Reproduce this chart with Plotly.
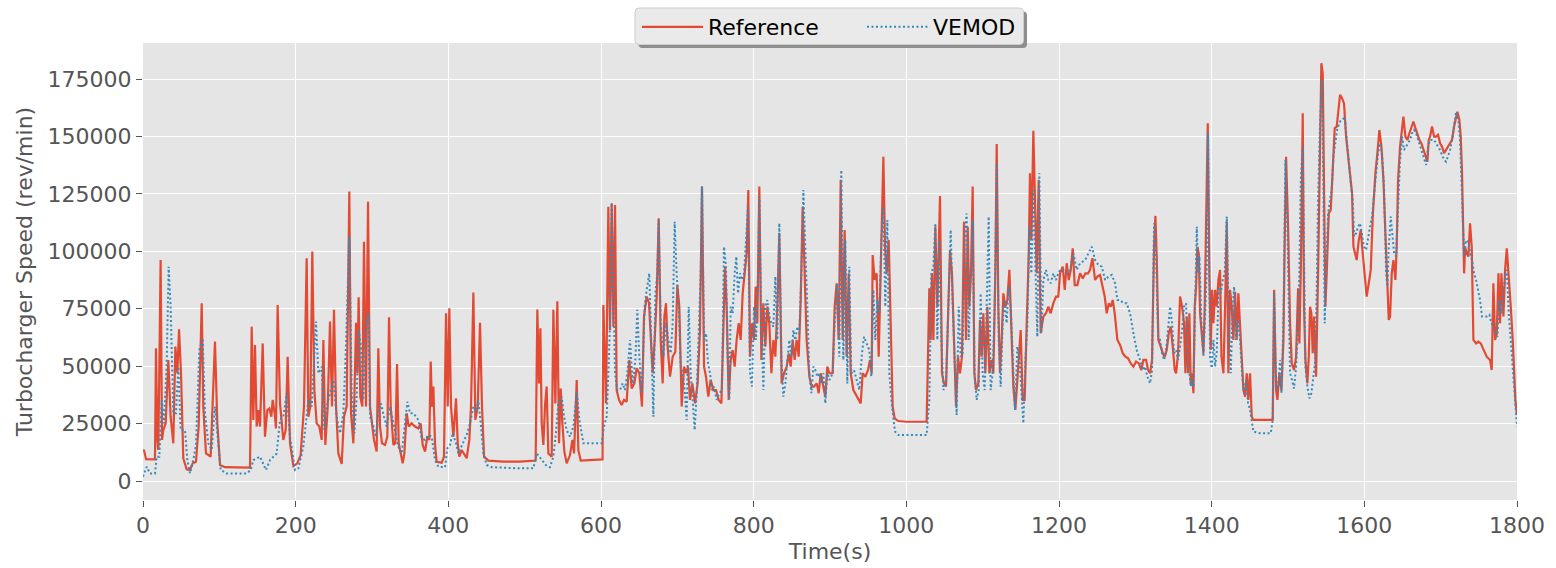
import plotly.graph_objects as go

# ---------------- data (time in s, speed in rev/min) ----------------
ref_t = [0, 1.3, 4, 15.7, 17.0, 18.8, 20.1, 23.1, 24.9, 26.6, 29.7, 33.2, 36.2, 39.7, 42.4, 45.0, 47.2, 49.8, 52.8, 57.2,
         61.6, 65.1, 69.4, 72.9, 74.7, 76.9, 79.0, 82.5, 88.6, 94.3, 97.4, 100.9, 107.4, 140.2, 142.4, 144.5, 146.7, 148.9,
         151.1, 153.3, 156.8, 159.8, 162.9, 165.5, 168.1, 169.9, 172.5, 174.2, 176.4, 179.5, 183.8, 186.9, 189.5, 192.6,
         197.0, 202.2, 206.5, 210.9, 214.4, 216.6, 219.2, 221.8, 224.5, 227.5, 231.0, 234.1, 236.3, 238.9, 242.0, 245.0,
         247.6, 250.2, 252.9, 255.9, 260.3, 263.3, 266.8, 270.3, 272.5, 275.6, 279.1, 280.8, 282.5, 284.7, 287.3, 289.5,
         292.1, 294.8, 297.4, 299.6, 302.6, 306.1, 308.3, 310.5, 313.1, 317.1, 320.1, 322.3, 324.5, 328.0, 330.6, 332.8,
         335.0, 337.6, 340.2, 342.4, 345.4, 348.1, 352.0, 356.4, 360.7, 363.8, 366.4, 369.5, 372.5, 375.1, 376.9, 378.6,
         380.4, 382.6, 384.7, 391.3, 394.3, 397.0, 399.2, 401.3, 403.5, 406.6, 410.1, 412.3, 414.4, 417.5, 420.5, 424.0,
         427.5, 429.7, 432.8, 435.4, 438.5, 441.5, 444.1, 446.8, 452.4, 472.1, 493.9, 514.4, 516.6, 518.8, 520.6, 522.3,
         524.5, 526.7, 528.8, 531.0, 535.4, 537.6, 540.2, 542.8, 545.0, 547.2, 549.4, 552.0, 555.0, 559.4, 562.5, 564.7,
         568.2, 570.3, 573.4, 598.7, 602.0, 603.1, 606.6, 609.6, 611.8, 614.0, 616.2, 618.4, 620.5, 623.6, 627.1, 630.1,
         633.6, 637.1, 640.2, 643.7, 646.7, 650.2, 653.7, 656.3, 659.8, 662.9, 665.1, 667.7, 670.3, 673.0, 675.6, 678.2,
         680.8, 683.0, 685.2, 687.3, 690.4, 693.9, 697.4, 700.0, 702.6, 705.7, 708.7, 711.4, 714.0, 716.6, 719.7, 723.2,
         726.6, 729.7, 732.3, 735.0, 737.6, 740.6, 743.7, 747.2, 750.7, 754.2, 757.7, 760.3, 762.5, 764.6, 767.3, 769.9,
         772.5, 775.1, 777.7, 780.4, 783.0, 785.6, 788.2, 790.8, 793.0, 795.2, 797.8, 800.5, 802.6, 804.8, 807.4, 810.1,
         812.7, 815.3, 817.9, 820.5, 823.2, 825.8, 828.4, 831.0, 833.6, 836.7, 839.7, 843.3, 845.9, 848.5, 851.1, 853.7,
         856.3, 859.0, 861.6, 864.2, 866.8, 869.4, 873.0, 876.0, 879.0, 882.6, 885.2, 887.8, 890.4, 893.9, 896.5, 899.1,
         903.5, 906.1, 908.7, 911.4, 914.0, 916.6, 919.2, 921.8, 924.5, 927.1, 930.6, 934.1, 937.6, 940.2, 942.8, 946.3,
         949.8, 952.4, 954.6, 955.9, 958.5, 961.1, 963.8, 966.4, 968.1, 969.9, 972.1, 974.2, 976.9, 979.5, 982.1, 984.7,
         989.5, 1000.4, 1026.6, 1028.8, 1030.1, 1031.9, 1033.6, 1035.4, 1038.0, 1040.6, 1042.4, 1044.1, 1046.7, 1049.3,
         1052.0, 1054.6, 1057.2, 1059.8, 1062.4, 1065.1, 1067.7, 1070.3, 1072.9, 1075.6, 1078.2, 1080.4, 1082.5, 1084.7,
         1086.9, 1089.1, 1091.3, 1094.3, 1096.5, 1098.7, 1100.9, 1103.5, 1106.1, 1108.7, 1111.4, 1114.0, 1116.6, 1118.4,
         1120.5, 1122.7, 1124.9, 1127.1, 1129.7, 1132.3, 1135.0, 1137.6, 1140.2, 1142.8, 1145.4, 1148.0, 1149.8, 1152.4,
         1155.0, 1157.6, 1160.3, 1162.0, 1163.8, 1166.4, 1168.6, 1170.8, 1173.4, 1176.0, 1179.5, 1183.0, 1186.0, 1189.1,
         1192.6, 1196.1, 1199.1, 1201.4, 1204.9, 1207.5, 1210.1, 1212.8, 1215.4, 1218.0, 1220.6, 1224.1, 1227.6, 1231.1,
         1234.6, 1238.1, 1240.7, 1243.8, 1247.3, 1250.3, 1253.8, 1257.3, 1259.9, 1262.5, 1265.2, 1267.8, 1270.4, 1273.0,
         1276.5, 1280.0, 1283.5, 1287.0, 1290.5, 1294.0, 1297.5, 1301.0, 1304.5, 1307.9, 1310.6, 1314.1, 1316.7, 1319.3,
         1321.9, 1324.5, 1326.3, 1328.0, 1330.2, 1333.3, 1336.0, 1338.5, 1341.1, 1343.8, 1346.4, 1349.0, 1351.6, 1353.4,
         1356.0, 1358.6, 1361.2, 1363.8, 1365.6, 1367.3, 1369.1, 1370.8, 1372.6, 1374.3, 1376.1, 1377.8, 1379.6, 1381.3,
         1383.1, 1384.8, 1387.4, 1389.2, 1390.9, 1392.7, 1394.9, 1397.0, 1398.8, 1400.5, 1402.3, 1404.5, 1406.6, 1408.8,
         1411.0, 1412.8, 1415.4, 1417.6, 1419.8, 1421.9, 1424.1, 1426.3, 1428.5, 1430.7, 1432.8, 1435.0, 1437.2, 1439.4,
         1441.6, 1443.8, 1446.0, 1448.1, 1450.3, 1452.5, 1454.7, 1463.4, 1480.0, 1481.8, 1484.4, 1486.1, 1488.7, 1491.4,
         1494.0, 1495.7, 1497.5, 1500.1, 1502.7, 1504.9, 1507.9, 1510.6, 1513.2, 1514.9, 1517.1, 1519.3, 1521.0, 1522.8,
         1525.4, 1527.2, 1528.9, 1530.6, 1532.4, 1534.1, 1536.8, 1539.4, 1541.1, 1543.7, 1545.5, 1547.2, 1549.0, 1550.7,
         1553.4, 1556.0, 1558.6, 1561.2, 1563.8, 1566.5, 1568.2, 1570.8, 1573.4, 1576.1, 1579.1, 1582.2, 1583.9, 1585.7,
         1588.3, 1590.0, 1592.7, 1595.3, 1597.9, 1600.5, 1603.1, 1605.8, 1608.4, 1611.0, 1614.5, 1617.1, 1619.7, 1622.4,
         1625.0, 1627.6, 1629.3, 1632.0, 1633.7, 1635.9, 1638.1, 1640.7, 1642.4, 1644.2, 1646.8, 1649.4, 1651.2, 1653.8,
         1656.4, 1659.0, 1661.7, 1664.3, 1666.9, 1669.5, 1672.1, 1674.8, 1677.4, 1680.0, 1682.6, 1684.4, 1686.1, 1688.7,
         1691.4, 1694.0, 1696.6, 1699.2, 1701.8, 1704.5, 1707.1, 1709.7, 1712.3, 1714.9, 1717.6, 1720.2, 1721.9, 1724.5,
         1726.3, 1728.0, 1729.8, 1730.7, 1732.0, 1734.1, 1736.3, 1738.5, 1740.7, 1742.9, 1746.4, 1749.4, 1752.5, 1756.0,
         1760.3, 1764.7, 1766.9, 1769.1, 1771.3, 1773.5, 1775.7, 1777.8, 1779.6, 1782.2, 1784.4, 1786.6, 1789.2, 1791.8,
         1794.4, 1796.2, 1797.9, 1800.0]
ref_v = [13000, 13500, 9500, 9400, 57800, 17900, 13500, 96200, 17900, 22200, 25100, 52700, 28000, 16400, 58500, 46900, 66000, 46900, 9900, 5100,
         4800, 7700, 8400, 23700, 46900, 77400, 32400, 12000, 10600, 60700, 25100, 7000, 6000, 5800, 67200, 26600, 59200, 23700,
         30900, 23700, 59900, 19300, 30900, 31600, 28000, 35300, 29500, 22900, 76600, 33800, 17900, 22200, 54100, 16400,
         6500, 7700, 11300, 32400, 97000, 28000, 32400, 99900, 39600, 25100, 23700, 17900, 61400, 15700, 32400, 69400,
         32400, 74500, 32400, 12000, 7400, 28000, 32400, 126000, 29500, 16400, 68900, 46900, 80000, 36700, 32400, 104200,
         32400, 121600, 32400, 25100, 17900, 12800, 57800, 23700, 16400, 15700, 19300, 71300, 32400, 15700, 16400, 50900,
         16400, 12000, 7700, 12000, 29500, 23700, 25100, 23700, 22900, 25100, 15700, 12800, 19300, 17900, 52000, 32400,
         41100, 15700, 8400, 8000, 10600, 73000, 32400, 75200, 32400, 19300, 36000, 16400, 10600, 13500, 12000, 9900,
         17900, 32400, 82000, 26600, 32400, 68900, 32400, 10600, 8900, 8400, 8400, 8900, 74700, 42500, 66500, 25100,
         15700, 33100, 41100, 12000, 10600, 74500, 33800, 78200, 16400, 40300, 25100, 12800, 7700, 11300, 17900, 12000,
         44000, 13500, 8900, 9400, 9400, 76600, 33800, 119400, 65700, 120900, 67200, 120200, 39600, 35300, 33100, 35300,
         34500, 52700, 40300, 42500, 49100, 46900, 32400, 71600, 80300, 77400, 64300, 46900, 61400, 80300, 114400, 61400,
         42500, 71600, 77400, 58500, 45400, 54100, 56300, 85300, 75900, 32400, 49800, 46900, 49800, 35300, 42500, 33800,
         42500, 65700, 128200, 49800, 45400, 36700, 44000, 39600, 39600, 35300, 33800, 68700, 93300, 75900, 35300, 52700,
         57000, 49800, 61400, 68700, 61400, 81700, 90400, 99100, 126700, 54100, 68700, 61400, 84600, 68700, 128200, 52700,
         77400, 58500, 75900, 68700, 46900, 61400, 54100, 75900, 107800, 42500, 46900, 49800, 55600, 49800, 61400, 52700,
         61400, 54100, 78800, 119400, 90400, 61400, 45400, 41100, 41100, 42500, 38200, 46900, 42500, 36700, 49800, 46900,
         46900, 75900, 86100, 61400, 131100, 61400, 109300, 54100, 90400, 46900, 39600, 37400, 35300, 33800, 46900, 45400,
         48300, 52700, 46900, 98400, 87500, 90400, 54100, 90400, 104900, 141200, 102000, 90400, 104900, 61400, 32400, 27300,
         26100, 25800, 25800, 61400, 83900, 61400, 90400, 61400, 110700, 75900, 97700, 124100, 46900, 42500,
         41100, 73000, 100600, 90400, 61400, 32400, 54100, 46900, 54100, 112900, 61400, 110700, 75900, 90400,
         128200, 46900, 39600, 42500, 70100, 54100, 73000, 46900, 75900, 46900, 52700, 46900, 90400, 146700,
         75900, 46900, 61400, 81700, 75900, 78800, 91900, 68700, 41100, 30900, 42500, 54100, 65700, 35300,
         35300, 67200, 97700, 134000, 104900, 152500, 122200, 90400, 131100, 64300, 71600, 73000, 75900, 73000,
         77400, 80300, 80300, 90400, 93300, 83200, 94800, 87500, 91900, 101300, 85300, 85300, 90400, 88200,
         90400, 90400, 91900, 97000, 87500, 89000, 89700, 84600, 80300, 73000, 77400, 75900, 78800, 73000,
         61400, 59200, 55600, 54100, 53400, 51200, 49800, 52000, 51200, 48300, 52700, 52700, 48300, 46900,
         52700, 102000, 115400, 97700, 61400, 58500, 55600, 54100, 57000, 64300, 67200, 58500, 48300, 46900,
         55600, 80300, 75900, 68700, 46900, 71600, 46900, 73000, 42500, 46900, 38200, 75900, 84600, 102000,
         99100, 73000, 64300, 55600, 75900, 104900, 155700, 90400, 57000, 83200, 68700, 83200, 75900, 87500,
         91900, 54100, 46900, 75900, 112900, 46900, 83200, 75900, 61400, 82400, 61400, 81700, 67200, 54100,
         39600, 36700, 46900, 35300, 46900, 28000, 26600, 26600, 26600, 83200, 39600, 35300, 46900, 39600,
         61400, 104900, 141200, 110700, 68700, 51200, 48300, 54100, 83900, 59900, 97700, 160100, 75900, 52700,
         42500, 54100, 75900, 73000, 55600, 71600, 45400, 90400, 134000, 181900, 177500, 119400, 75900, 90400,
         116500, 118000, 134000, 153600, 154300, 163000, 168100, 166600, 164400, 149900, 141200, 131100, 125300, 102000,
         99100, 96200, 104900, 109300, 99100, 90400, 80300, 86100, 91900, 115100, 134000, 142700, 152800, 145600,
         131100, 107800, 90400, 70100, 71600, 90400, 96200, 87500, 102000, 131100, 145600, 154300, 158600, 149900,
         148500, 151400, 154300, 156500, 153600, 150700, 148500, 147000, 144100, 141200, 139000, 148500, 149900, 154300,
         149900, 149900, 150700, 147000, 145600, 142700, 144100, 145600, 147000, 148500, 154300, 158600, 160800, 157200,
         149900, 134000, 112200, 90400, 102000, 99100, 97700, 112200, 102000, 61400, 59900, 60700, 59900, 57000,
         54100, 52700, 48300, 86100, 61400, 64300, 90400, 68700, 90400, 71600, 91900, 101300, 90400, 75900,
         61400, 46900, 35300, 28700]

vemod_t = [0, 4.8, 9.2, 15.7, 17.9, 21.4, 24.5, 27.5, 31.0, 33.6, 36.2, 39.7, 43.2, 46.3, 49.3, 55.0, 58.1, 61.6, 65.9, 69.4,
           73.8, 78.2, 81.2, 85.6, 90.0, 94.3, 97.4, 101.8, 109.6, 135.8, 141.1, 144.5, 153.3, 157.6, 161.1, 166.4, 175.1,
           179.5, 183.8, 188.2, 192.6, 199.1, 203.5, 210.0, 216.6, 221.0, 226.6, 229.7, 234.1, 237.6, 240.6, 245.0, 249.4,
           253.7, 258.1, 262.5, 265.9, 270.3, 273.4, 276.9, 279.9, 282.5, 285.6, 288.6, 292.1, 295.2, 297.4, 301.8, 305.3,
           308.3, 311.8, 315.7, 319.2, 323.6, 327.1, 330.2, 334.5, 338.9, 342.4, 346.3, 349.8, 354.2, 360.7, 365.1, 369.5,
           373.8, 378.2, 382.6, 386.9, 395.7, 398.7, 402.2, 405.7, 410.1, 413.1, 416.2, 420.5, 424.9, 428.4, 432.8, 436.3,
           439.3, 442.4, 445.9, 450.2, 456.8, 493.9, 511.4, 515.8, 522.3, 528.8, 533.2, 537.6, 541.1, 544.1, 548.5, 551.6,
           555.0, 559.4, 563.8, 568.2, 571.7, 576.9, 598.7, 600.9, 603.9, 607.4, 609.6, 611.8, 614.0, 616.2, 618.4, 621.4,
           624.9, 628.4, 631.5, 634.5, 638.0, 641.5, 645.0, 647.6, 650.2, 653.7, 657.2, 659.8, 663.3, 666.4, 668.6, 671.2,
           673.8, 675.6, 678.2, 681.7, 685.2, 688.2, 691.3, 693.9, 696.5, 699.1, 701.8, 704.4, 707.0, 709.6, 712.2, 714.9,
           717.5, 720.1, 722.7, 725.3, 728.0, 730.6, 732.3, 735.0, 737.6, 740.2, 742.8, 745.4, 748.0, 751.5, 755.0, 758.5,
           761.1, 763.8, 766.4, 768.1, 769.9, 772.5, 775.1, 777.3, 779.5, 782.1, 784.7, 787.4, 790.0, 792.6, 795.2, 797.8,
           800.5, 803.1, 805.7, 807.4, 810.1, 812.7, 815.3, 817.9, 820.5, 823.2, 825.8, 828.4, 831.0, 833.6, 836.3, 838.9,
           841.5, 844.1, 846.7, 849.4, 852.0, 854.6, 857.2, 859.8, 862.5, 865.1, 867.7, 870.3, 872.9, 875.6, 878.2, 880.8,
           883.4, 886.0, 888.7, 891.3, 893.9, 896.5, 899.1, 903.5, 906.1, 909.6, 912.2, 914.8, 917.5, 920.1, 922.7, 925.3,
           927.9, 931.4, 934.9, 938.4, 941.9, 944.5, 948.0, 951.5, 954.2, 956.8, 959.4, 962.0, 964.6, 967.3, 969.9, 972.5,
           975.1, 977.7, 981.2, 985.2, 989.5, 1026.6, 1030.1, 1032.8, 1035.4, 1038.0, 1040.6, 1043.2, 1045.9, 1048.5,
           1052.0, 1055.5, 1058.1, 1060.7, 1063.3, 1065.9, 1068.6, 1071.2, 1073.8, 1076.4, 1079.0, 1081.7, 1084.3, 1086.9,
           1089.5, 1092.1, 1094.8, 1097.4, 1100.0, 1102.6, 1105.2, 1107.9, 1110.5, 1113.1, 1115.7, 1118.4, 1121.0, 1123.6,
           1126.2, 1128.8, 1131.4, 1134.1, 1136.7, 1139.3, 1142.4, 1145.4, 1148.0, 1150.7, 1153.3, 1155.9, 1158.5, 1161.2,
           1163.8, 1166.4, 1169.0, 1171.6, 1174.2, 1176.9, 1179.5, 1183.0, 1186.0, 1189.1, 1192.6, 1196.1, 1199.1, 1201.4,
           1205.8, 1210.1, 1214.5, 1218.9, 1223.2, 1227.6, 1234.2, 1238.5, 1242.9, 1247.3, 1251.6, 1256.0, 1260.4, 1264.7,
           1269.1, 1273.5, 1276.5, 1280.0, 1284.4, 1288.7, 1293.1, 1297.5, 1301.8, 1306.2, 1309.7, 1312.8, 1315.8, 1319.3,
           1321.9, 1324.5, 1327.2, 1329.8, 1332.4, 1335.0, 1337.7, 1340.3, 1342.9, 1345.5, 1348.1, 1350.8, 1353.4, 1356.0,
           1358.6, 1361.2, 1363.8, 1366.5, 1369.1, 1370.8, 1372.6, 1374.3, 1376.1, 1378.7, 1380.5, 1382.2, 1384.0, 1386.6,
           1389.2, 1391.8, 1393.5, 1395.3, 1397.9, 1400.1, 1402.3, 1404.5, 1406.6, 1409.3, 1411.9, 1414.5, 1417.1, 1419.8,
           1422.4, 1425.0, 1427.6, 1429.4, 1432.0, 1434.6, 1437.2, 1439.8, 1442.4, 1445.1, 1447.7, 1450.3, 1452.5, 1454.7,
           1463.4, 1477.4, 1480.0, 1481.8, 1484.4, 1487.0, 1489.6, 1491.4, 1494.0, 1496.6, 1499.2, 1502.7, 1505.3, 1507.9,
           1510.6, 1513.2, 1514.9, 1516.7, 1519.3, 1521.0, 1522.8, 1525.4, 1528.0, 1530.6, 1533.3, 1535.9, 1537.6, 1539.4,
           1542.0, 1544.6, 1546.4, 1548.1, 1549.9, 1552.5, 1555.1, 1557.7, 1559.5, 1562.1, 1564.7, 1568.2, 1571.7, 1574.3,
           1577.0, 1579.6, 1582.2, 1584.8, 1586.6, 1589.2, 1591.8, 1594.4, 1597.0, 1599.6, 1602.3, 1604.9, 1607.5, 1610.1,
           1612.7, 1615.4, 1618.0, 1620.6, 1623.2, 1625.8, 1628.5, 1630.2, 1632.0, 1634.6, 1636.3, 1639.0, 1641.6, 1644.2,
           1646.8, 1649.4, 1652.0, 1654.7, 1657.3, 1659.9, 1662.5, 1665.1, 1667.8, 1670.4, 1673.0, 1675.6, 1678.3, 1680.9,
           1683.5, 1686.1, 1688.7, 1691.4, 1694.0, 1696.6, 1699.2, 1701.8, 1704.5, 1707.1, 1709.7, 1712.3, 1714.9, 1717.6,
           1720.2, 1722.8, 1725.4, 1727.2, 1728.9, 1730.7, 1732.4, 1734.1, 1736.8, 1738.5, 1741.1, 1743.8, 1746.4, 1749.0,
           1751.6, 1754.2, 1756.9, 1760.3, 1763.8, 1766.5, 1769.1, 1771.7, 1774.3, 1776.9, 1779.6, 1782.2, 1784.8, 1786.6,
           1789.2, 1791.8, 1794.4, 1797.1, 1800.0]
vemod_v = [1900, 6200, 3300, 3300, 10600, 10600, 35300, 25100, 51200, 93300, 75900, 29500, 29500, 49800, 22200, 22200, 9100, 3300, 9100, 15700,
           57000, 62100, 29500, 16400, 13500, 32400, 20800, 4800, 3300, 3300, 4800, 9100, 10600, 7000, 4800, 9100, 12000,
           26600, 28000, 38200, 19300, 4800, 5500, 14900, 35300, 32400, 69400, 46900, 49800, 22200, 32400, 38200, 44000,
           28000, 20800, 29500, 59200, 106400, 38200, 20800, 36700, 65700, 58500, 35300, 67200, 73000, 28000, 23700, 19300,
           29500, 33800, 28000, 23700, 32400, 26600, 22200, 14900, 12000, 22200, 34500, 29500, 29500, 26600, 18600, 17900,
           20000, 19300, 9100, 6200, 6000, 14200, 15700, 20800, 16400, 12000, 14200, 17900, 20800, 25100, 32400, 30200,
           35300, 25100, 12000, 7000, 6000, 5500, 5500, 12000, 9100, 6500, 6000, 10600, 21500, 33800, 36700, 28000,
           22200, 19300, 23700, 38900, 26600, 16400, 16400, 16400, 23700, 28000, 46900, 68700, 120900, 90400, 46900, 39600,
           39600, 42500, 39600, 46900, 61400, 42500, 52700, 74500, 54100, 38200, 75900, 83200, 90400, 54100, 28000, 81700,
           90400, 113600, 68700, 54100, 68700, 61400, 55600, 68700, 112900, 90400, 75900, 49800, 46900, 39600, 26600, 75900,
           46900, 35300, 22200, 38200, 61400, 90400, 128200, 61400, 64300, 51200, 46900, 39600, 41100, 35300, 38200, 39600,
           102000, 93300, 46900, 35300, 75900, 73000, 90400, 97700, 81700, 90400, 87500, 90400, 104900, 119400, 46900, 41100,
           75900, 61400, 90400, 123800, 68700, 39600, 75900, 78800, 71600, 68700, 67200, 89000, 61400, 112200, 54100, 36700,
           42500, 54100, 61400, 54100, 65700, 61400, 67200, 64300, 90400, 126700, 104900, 75900, 46900, 38200, 49800, 48300,
           45400, 46900, 42500, 46900, 33800, 46900, 44000, 46900, 68700, 86100, 54100, 135400, 52700, 104900, 42500, 93300,
           46900, 48300, 44000, 39600, 55600, 62800, 59900, 57000, 45400, 83200, 61400, 78800, 73000, 104900, 119400, 75900,
           113600, 46900, 32400, 21500, 20000, 20000, 35300, 90400, 93300, 112200, 61400, 104900, 61400, 39600,
           42500, 75900, 109300, 75900, 46900, 28700, 75900, 54100, 55600, 104900, 116500, 61400, 90400, 113600,
           46900, 35300, 39600, 81700, 46900, 39600, 75900, 115100, 39600, 46900, 75900, 138300, 61400, 41100,
           68700, 78800, 68700, 84600, 75900, 52700, 30900, 58500, 54100, 39600, 25100, 52700, 67200, 110700,
           90400, 126700, 90400, 62800, 134000, 64300, 87500, 91900, 87500, 86100, 90400, 87500, 90400, 91900,
           91900, 90400, 91900, 99100, 91900, 94800, 96200, 99100, 102000, 96200, 94000, 93300, 87500, 89000,
           89700, 86100, 78800, 78800, 77400, 77400, 73000, 64300, 57000, 52700, 48300, 49800, 45400, 42500,
           48300, 112200, 97700, 62800, 61400, 55600, 52700, 57000, 65700, 75900, 68700, 55600, 57000, 52700,
           58500, 65700, 75900, 77400, 46900, 46900, 41100, 44000, 41100, 75900, 110700, 90400, 97700, 68700,
           54100, 75900, 90400, 151400, 54100, 49100, 61400, 49800, 55600, 84600, 81700, 87500, 90400, 115100,
           68700, 46900, 75900, 84600, 61400, 70100, 61400, 46900, 38200, 44000, 33800, 30900, 25100, 21500,
           20800, 20800, 26600, 81700, 39600, 41100, 52700, 38200, 68700, 139800, 110700, 46900, 44000, 40300,
           49800, 68700, 90400, 131100, 145600, 90400, 49800, 41100, 36000, 38200, 46900, 52700, 83200, 122400,
           155700, 174600, 126700, 68700, 90400, 116500, 122400, 128200, 141200, 148500, 153600, 156500, 157200, 158600,
           148500, 136900, 129600, 122400, 106400, 107800, 110700, 112200, 106400, 102000, 100600, 106400, 110700, 115100,
           125300, 134000, 142700, 147000, 142700, 128200, 90400, 84600, 102000, 115100, 107800, 99100, 97700, 119400,
           139800, 149900, 144100, 145600, 147000, 148500, 151400, 152800, 151400, 148500, 145600, 142700, 139800, 137600,
           145600, 148500, 148500, 148500, 147000, 145600, 144100, 141900, 139800, 139000, 141200, 144100, 148500, 155700,
           160800, 158600, 148500, 131100, 112200, 97700, 103500, 104900, 103500, 99100, 96200, 90400, 87500, 83200,
           78800, 71600, 71600, 71600, 72400, 68700, 67200, 64300, 62800, 78800, 73000, 81700, 90400, 91900,
           73000, 61400, 49800, 35300, 23700]

x_ticks = [0, 200, 400, 600, 800, 1000, 1200, 1400, 1600, 1800]
y_ticks = [0, 25000, 50000, 75000, 100000, 125000, 150000, 175000]
y_tick_text = [str(v) for v in y_ticks]
x_tick_text = [str(v) for v in x_ticks]

RED = "#E24A33"
BLUE = "#348ABD"
GRAY = "#555555"
FONT = "DejaVu Sans"

W, H = 1556, 568
ML, MR, MT, MB = 143, 39, 43, 68
PW, PH = W - ML - MR, H - MT - MB


def px_x(p):
    return (p - ML) / PW


def px_y(p):
    return (H - MB - p) / PH


def rounded_rect(x0, y0, x1, y1, r):
    """Path in paper coords for a rounded rectangle given in pixel coords."""
    rx, ry = r / PW, r / PH
    X0, X1 = px_x(x0), px_x(x1)
    Y0, Y1 = px_y(y0), px_y(y1)  # Y0 top (larger), Y1 bottom
    return (f"M {X0 + rx} {Y0} L {X1 - rx} {Y0} Q {X1} {Y0} {X1} {Y0 - ry} "
            f"L {X1} {Y1 + ry} Q {X1} {Y1} {X1 - rx} {Y1} "
            f"L {X0 + rx} {Y1} Q {X0} {Y1} {X0} {Y1 + ry} "
            f"L {X0} {Y0 - ry} Q {X0} {Y0} {X0 + rx} {Y0} Z")


fig = go.Figure()
fig.add_trace(go.Scatter(x=ref_t, y=ref_v, mode="lines", name="Reference",
                         line=dict(color=RED, width=2.2)))
fig.add_trace(go.Scatter(x=vemod_t, y=vemod_v, mode="lines", name="VEMOD",
                         line=dict(color=BLUE, width=2, dash="2px,2.5px")))

# legend frame with shadow (drawn as shapes; legend itself is transparent)
shapes = [
    dict(type="path", xref="paper", yref="paper", layer="above",
         path=rounded_rect(638.5, 11.5, 1027, 48, 4),
         fillcolor="#8E8E8E", line=dict(width=0)),
    dict(type="path", xref="paper", yref="paper", layer="above",
         path=rounded_rect(635, 8, 1023.5, 44.5, 4),
         fillcolor="#EAEAEA", line=dict(color="#CCCCCC", width=1)),
]

fig.update_layout(
    width=W, height=H,
    margin=dict(l=ML, r=MR, t=MT, b=MB, autoexpand=False),
    paper_bgcolor="white", plot_bgcolor="#E5E5E5",
    font=dict(family=FONT, size=22, color=GRAY),
    showlegend=True,
    shapes=shapes,
    legend=dict(orientation="h", x=px_x(637), xanchor="left", y=px_y(6), yanchor="top",
                bgcolor="rgba(0,0,0,0)", borderwidth=0,
                font=dict(family=FONT, size=22, color="black"),
                itemwidth=61, entrywidth=149, entrywidthmode="pixels",
                tracegroupgap=0),
)
fig.update_xaxes(range=[0, 1800], tickvals=x_ticks, ticktext=x_tick_text,
                 showgrid=True, gridcolor="white", gridwidth=1.2, zeroline=False,
                 ticks="outside", ticklen=6, tickcolor=GRAY, tickwidth=1,
                 tickfont=dict(family=FONT, size=22, color=GRAY),
                 title=dict(text="Time(s)", font=dict(family=FONT, size=22, color=GRAY), standoff=6),
                 showline=False, automargin=False)
fig.update_yaxes(range=[-8270, 190680], tickvals=y_ticks, ticktext=y_tick_text,
                 showgrid=True, gridcolor="white", gridwidth=1.2, zeroline=False,
                 ticks="outside", ticklen=6, tickcolor=GRAY, tickwidth=1,
                 tickfont=dict(family=FONT, size=22, color=GRAY),
                 title=dict(text="Turbocharger Speed (rev/min)", font=dict(family=FONT, size=22, color=GRAY), standoff=8),
                 showline=False, automargin=False)

fig.write_html("out.html")
